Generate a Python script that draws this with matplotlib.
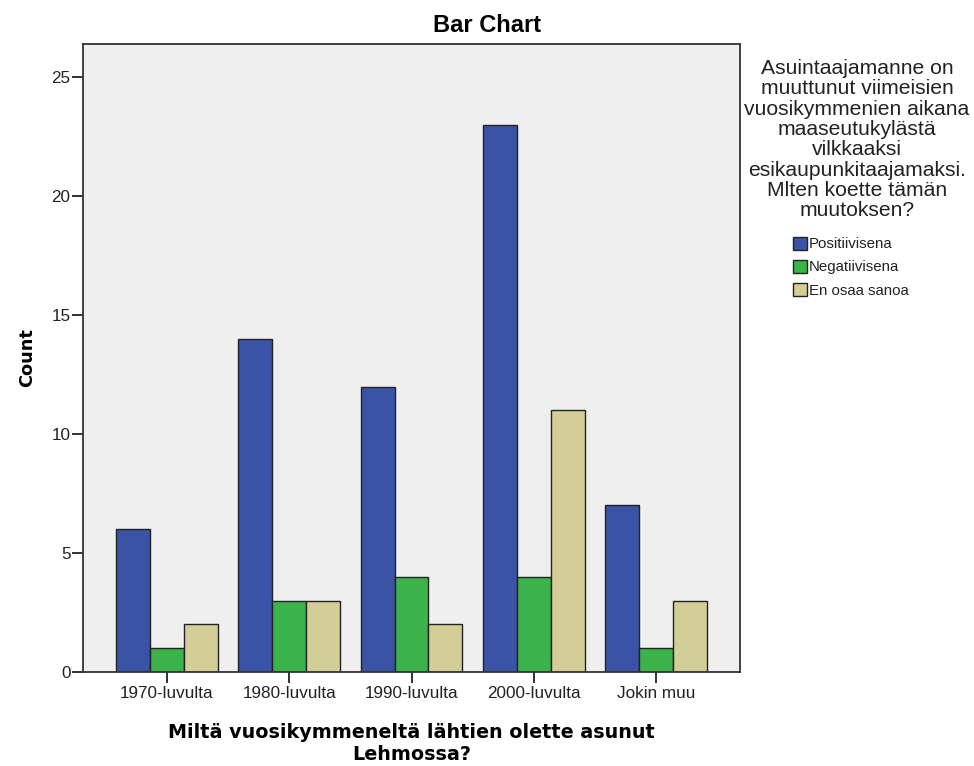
import matplotlib
matplotlib.use("Agg")
import matplotlib.pyplot as plt
import numpy as np
from matplotlib.patches import Patch

categories = ["1970-luvulta", "1980-luvulta", "1990-luvulta", "2000-luvulta", "Jokin muu"]
series_names = ["Positiivisena", "Negatiivisena", "En osaa sanoa"]
positiivisena = [6, 14, 12, 23, 7]
negatiivisena = [1, 3, 4, 4, 1]
en_osaa_sanoa = [2, 3, 2, 11, 3]
yticks = [0, 5, 10, 15, 20, 25]

colors = ["#3a53a4", "#3bb24a", "#d3ce98"]
series = [positiivisena, negatiivisena, en_osaa_sanoa]

fig = plt.figure(figsize=(9.74, 7.66), dpi=100)
ax = fig.add_axes([0.0852, 0.1227, 0.6746, 0.8199])
ax.set_facecolor("#efefef")

x = np.arange(len(categories))
w = 0.277
for i, (vals, c) in enumerate(zip(series, colors)):
    ax.bar(x + (i - 1) * w, vals, width=w, color=c, edgecolor="#222222", linewidth=1.0, zorder=2)

ax.set_xlim(-0.685, len(categories) - 1 + 0.685)
ax.set_ylim(0, 26.4)
ax.set_yticks(yticks)
ax.set_xticks(x)
ax.set_xticklabels(categories, family="Liberation Sans", fontsize=12.3, color="#222222")
for lab in ax.get_yticklabels():
    lab.set_family("Liberation Sans"); lab.set_fontsize(12.3); lab.set_color("#222222")
ax.tick_params(axis="both", length=8, width=1.3, color="#222222")
ax.tick_params(axis="x", pad=2)
ax.tick_params(axis="y", pad=1)
for sp in ax.spines.values():
    sp.set_linewidth(1.3)
    sp.set_color("#333333")

fig.suptitle("Bar Chart", x=0.5, y=1 - 25 / 766, va="center", family="Liberation Sans",
             fontweight="bold", fontsize=17)
ax.set_ylabel("Count", family="DejaVu Sans", fontweight="bold", fontsize=12.8, labelpad=11)
ax.set_xlabel("Miltä vuosikymmeneltä lähtien olette asunut\nLehmossa?", family="DejaVu Sans",
              fontweight="bold", fontsize=13.8, labelpad=16, linespacing=1.2)

legend_title = ("Asuintaajamanne on\nmuuttunut viimeisien\nvuosikymmenien aikana\nmaaseutukylästä\n"
                "vilkkaaksi\nesikaupunkitaajamaksi.\nMlten koette tämän\nmuutoksen?")
fig.text(857 / 974, 1 - 59 / 766, legend_title, ha="center", va="top", multialignment="center",
         family="Liberation Sans", fontsize=15.2, linespacing=1.09, color="#222222")

handles = [Patch(facecolor=c, edgecolor="#222222", linewidth=1.0, label=n) for c, n in zip(colors, series_names)]
leg = fig.legend(handles=handles, loc="upper left", bbox_to_anchor=(788 / 974, 1 - 232 / 766),
                 frameon=False, prop={"family": "Liberation Sans", "size": 10.8},
                 handlelength=0.95, handleheight=1.0, handletextpad=0.15, labelspacing=0.55,
                 borderpad=0.3, borderaxespad=0)
for t in leg.get_texts():
    t.set_color("#222222")

fig.savefig("out.png", dpi=100)
